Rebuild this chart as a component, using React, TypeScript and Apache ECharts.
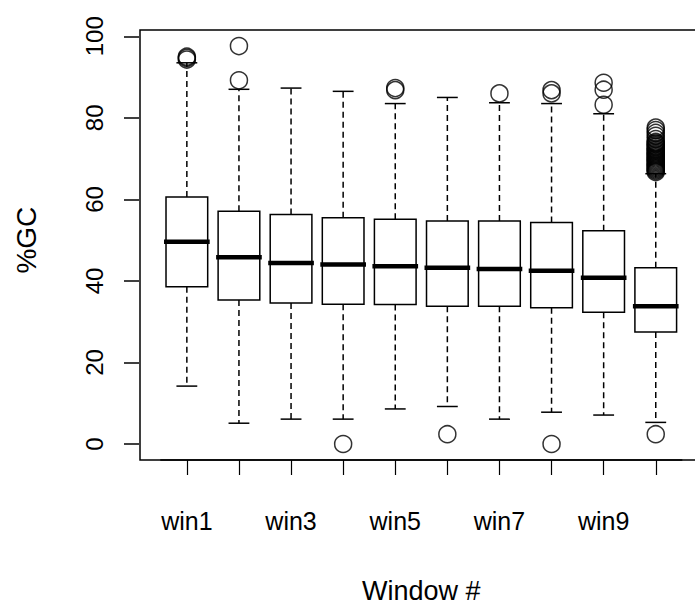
import React, { useEffect, useRef } from "react";
import * as echarts from "echarts";

// %GC distribution per sliding window
const categories = ["win1", "win2", "win3", "win4", "win5", "win6", "win7", "win8", "win9", "win10"];
const whiskerLow = [14.2, 5.1, 6.1, 6.1, 8.6, 9.2, 6.1, 7.8, 7.1, 5.3];
const quartile1 = [38.6, 35.3, 34.6, 34.3, 34.2, 33.8, 33.8, 33.4, 32.3, 27.5];
const medians = [49.6, 45.8, 44.4, 44.0, 43.6, 43.2, 42.9, 42.5, 40.8, 33.8];
const quartile3 = [60.6, 57.1, 56.3, 55.5, 55.1, 54.7, 54.7, 54.3, 52.3, 43.2];
const whiskerHigh = [93.5, 87.0, 87.3, 86.5, 83.5, 85.0, 83.7, 83.5, 81.0, 66.3];
const outliers: number[][] = [
  [94.3, 94.7, 95.0],
  [97.6, 89.2],
  [],
  [0.0],
  [86.8, 87.3],
  [2.4],
  [86.0],
  [86.0, 86.8, 0.0],
  [88.6, 86.9, 83.2],
  [77.6, 77.0, 76.3, 75.6, 74.8, 74.1, 73.8, 73.5, 73.1, 72.8, 72.4, 72.1, 71.8, 71.5,
   71.2, 70.9, 70.6, 70.3, 70.0, 69.7, 69.4, 69.1, 68.8, 68.5, 68.2, 67.9, 67.6, 67.3,
   67.0, 66.7, 2.4],
];
const yTicks = [0, 20, 40, 60, 80, 100];

const FONT = "'Liberation Sans', Arial, Helvetica, sans-serif";
const TICK_LEN = 15;

function renderBox(params: any, api: any) {
  const i = api.value(0);
  const lo = api.coord([i, api.value(1)]);
  const q1 = api.coord([i, api.value(2)]);
  const med = api.coord([i, api.value(3)]);
  const q3 = api.coord([i, api.value(4)]);
  const hi = api.coord([i, api.value(5)]);
  const band = api.size([1, 0])[0];
  const half = band * 0.4;
  const cap = band * 0.2;
  const cx = lo[0];
  const solid = { stroke: "#000", lineWidth: 1.5, fill: null };
  const dashed = { stroke: "#000", lineWidth: 1.5, lineDash: [6, 4] };
  return {
    type: "group",
    children: [
      { type: "line", shape: { x1: cx, y1: q3[1], x2: cx, y2: hi[1] }, style: dashed },
      { type: "line", shape: { x1: cx, y1: q1[1], x2: cx, y2: lo[1] }, style: dashed },
      { type: "line", shape: { x1: cx - cap, y1: hi[1], x2: cx + cap, y2: hi[1] }, style: solid },
      { type: "line", shape: { x1: cx - cap, y1: lo[1], x2: cx + cap, y2: lo[1] }, style: solid },
      {
        type: "rect",
        shape: { x: cx - half, y: q3[1], width: half * 2, height: q1[1] - q3[1] },
        style: { stroke: "#000", lineWidth: 1.5, fill: "#fff" },
      },
      {
        type: "line",
        shape: { x1: cx - half - 2, y1: med[1], x2: cx + half + 2, y2: med[1] },
        style: { stroke: "#000", lineWidth: 4.5 },
      },
    ],
  };
}

// outward tick marks of the %GC axis, placed through the axis scale
function renderYTick(params: any, api: any) {
  const p = api.coord([0, api.value(1)]);
  return {
    type: "rect",
    shape: { x: p[0] - TICK_LEN, y: p[1] - 0.75, width: TICK_LEN, height: 1.5 },
    style: { fill: "#000" },
  };
}

export default function App() {
  const ref = useRef<HTMLDivElement>(null);

  useEffect(() => {
    document.body.style.margin = "0";
    const chart = echarts.init(ref.current!, null, { renderer: "svg" });

    const boxData = categories.map((_, i) => [
      i, whiskerLow[i], quartile1[i], medians[i], quartile3[i], whiskerHigh[i],
    ]);
    const outlierData = outliers.flatMap((vals, i) => vals.map((v) => [i, v]));
    const yMin = yTicks[0];
    const yMax = yTicks[yTicks.length - 1];

    chart.setOption({
      animation: false,
      backgroundColor: "#fff",
      textStyle: { fontFamily: FONT, color: "#000" },
      grid: [
        // plotting region for the boxes
        { left: 160.8, right: 13.2, top: 36.3, bottom: 162, outerBoundsMode: "none" },
        // strip left of the frame that carries the %GC axis and its ticks
        { left: 124, width: 15, top: 36.3, bottom: 162, outerBoundsMode: "none" },
      ],
      xAxis: [
        {
          gridIndex: 0,
          type: "category",
          data: categories,
          boundaryGap: true,
          offset: 16,
          axisLine: { show: true, onZero: false, lineStyle: { color: "#000", width: 1.5 } },
          axisTick: { show: true, interval: 0, alignWithLabel: true, length: TICK_LEN, lineStyle: { color: "#000", width: 1.2 } },
          axisLabel: { interval: 1, margin: 48, fontSize: 25, color: "#000", fontFamily: FONT },
          splitLine: { show: false },
          name: "Window #",
          nameLocation: "middle",
          nameGap: 117,
          nameTextStyle: { fontSize: 27, color: "#000", fontFamily: FONT },
        },
        { gridIndex: 1, type: "value", show: false, min: 0, max: 1 },
      ],
      yAxis: [
        { gridIndex: 0, type: "value", show: false, min: yMin, max: yMax },
        {
          gridIndex: 1,
          type: "value",
          min: yMin,
          max: yMax,
          interval: 20,
          position: "left",
          axisLine: { show: false },
          axisTick: { show: false },
          axisLabel: { rotate: 90, margin: 18, fontSize: 24, color: "#000", fontFamily: FONT },
          splitLine: {
            show: true,
            lineStyle: { color: "#000", width: 1.5, type: "solid" },
          },
          name: "%GC",
          nameLocation: "middle",
          nameRotate: 90,
          nameGap: 84,
          nameTextStyle: { fontSize: 28, color: "#000", fontFamily: FONT },
        },
      ],
      graphic: [
        {
          type: "rect",
          silent: true,
          z: 100,
          shape: { x: 140, y: 30, width: 563, height: 430 },
          style: { fill: null, stroke: "#000", lineWidth: 1.5 },
        },
      ],
      series: [
        {
          type: "custom",
          renderItem: renderBox,
          data: boxData,
          xAxisIndex: 0,
          yAxisIndex: 0,
          encode: { x: 0, y: [1, 2, 3, 4, 5] },
          clip: false,
          z: 2,
        },
        {
          type: "scatter",
          data: outlierData,
          xAxisIndex: 0,
          yAxisIndex: 0,
          symbol: "circle",
          symbolSize: 17,
          clip: false,
          z: 3,
          itemStyle: { color: "rgba(0,0,0,0)", borderColor: "#000", borderWidth: 1.5 },
        },
      ],
    });

    return () => chart.dispose();
  }, []);

  return <div ref={ref} style={{ width: 695, height: 606 }} />;
}
